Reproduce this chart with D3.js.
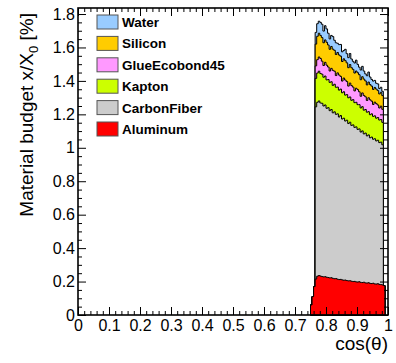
<!DOCTYPE html>
<html><head><meta charset="utf-8">
<script src="https://cdn.jsdelivr.net/npm/d3@7"></script>
<style>
html,body{margin:0;padding:0;background:#fff;}
svg{display:block;font-family:"Liberation Sans",Arial,Helvetica,sans-serif;}
</style></head><body>
<svg id="chart" width="396" height="363"></svg>
<script>
// ---------- data ----------
const legendOrder = ["Water","Silicon","GlueEcobond45","Kapton","CarbonFiber","Aluminum"];
const stackOrder  = ["Aluminum","CarbonFiber","Kapton","GlueEcobond45","Silicon","Water"];
const binStart = 0.75, binWidth = 0.005, nBins = 48;

const aluminum = [0.06,0.11,0.17,0.215,0.232,0.236,0.233,0.230,0.228,0.229,0.226,0.224,0.222,0.223,0.219,0.217,0.218,0.214,0.212,0.213,0.210,0.208,0.209,0.206,0.204,0.205,0.202,0.200,0.201,0.198,0.197,0.199,0.195,0.194,0.196,0.192,0.191,0.193,0.189,0.188,0.190,0.186,0.185,0.187,0.183,0.182,0.180,0.176];
const carbonFiber = [0,0,0,1.030,1.040,1.044,1.035,1.036,1.022,1.027,1.010,1.016,1.000,1.006,0.990,0.998,0.982,0.989,0.972,0.980,0.962,0.969,0.951,0.959,0.941,0.948,0.932,0.937,0.921,0.927,0.913,0.914,0.899,0.907,0.887,0.896,0.880,0.884,0.871,0.876,0.861,0.868,0.856,0.858,0.848,0.852,0.838,0];
const kapton = [0,0,0,0.17,0.175,0.178,0.176,0.174,0.172,0.173,0.17,0.168,0.169,0.166,0.164,0.165,0.162,0.16,0.161,0.158,0.157,0.158,0.155,0.153,0.154,0.151,0.15,0.151,0.148,0.147,0.148,0.145,0.144,0.145,0.142,0.141,0.142,0.139,0.138,0.139,0.137,0.137,0.136,0.136,0.135,0.135,0.134,0];
const glueEcobond45 = [0,0,0,0.075,0.08,0.085,0.09,0.078,0.07,0.082,0.088,0.075,0.068,0.08,0.09,0.078,0.07,0.085,0.09,0.076,0.07,0.082,0.09,0.078,0.07,0.083,0.088,0.075,0.07,0.084,0.09,0.077,0.07,0.082,0.088,0.076,0.07,0.083,0.089,0.076,0.071,0.082,0.087,0.075,0.072,0.08,0.078,0];
const silicon = [0,0,0,0.13,0.14,0.142,0.138,0.141,0.136,0.134,0.137,0.132,0.13,0.131,0.127,0.125,0.126,0.122,0.12,0.121,0.117,0.115,0.116,0.112,0.11,0.111,0.107,0.106,0.107,0.103,0.101,0.102,0.099,0.097,0.098,0.095,0.093,0.094,0.091,0.09,0.09,0.088,0.087,0.086,0.084,0.083,0.082,0];
const water = [0,0,0,0.07,0.075,0.072,0.078,0.08,0.07,0.085,0.08,0.07,0.062,0.066,0.075,0.06,0.07,0.055,0.062,0.07,0.058,0.05,0.068,0.055,0.06,0.066,0.052,0.048,0.06,0.065,0.05,0.045,0.058,0.062,0.048,0.042,0.055,0.06,0.045,0.04,0.05,0.042,0.035,0.04,0.032,0.03,0.026,0];

const xTicks = [0,0.1,0.2,0.3,0.4,0.5,0.6,0.7,0.8,0.9,1];
const xTickLabels = ["0","0.1","0.2","0.3","0.4","0.5","0.6","0.7","0.8","0.9","1"];
const yTicks = [0,0.2,0.4,0.6,0.8,1,1.2,1.4,1.6,1.8];
const yTickLabels = ["0","0.2","0.4","0.6","0.8","1","1.2","1.4","1.6","1.8"];

const colors = {Water:"#99ccff",Silicon:"#ffcc00",GlueEcobond45:"#ff99ff",Kapton:"#ccff00",CarbonFiber:"#cccccc",Aluminum:"#ff0000"};
const valuesByKey = {Aluminum:aluminum,CarbonFiber:carbonFiber,Kapton:kapton,GlueEcobond45:glueEcobond45,Silicon:silicon,Water:water};

// ---------- chart ----------
const svg = d3.select("#chart");
const L=78,R=388,T=8,B=315;
const x = d3.scaleLinear().domain([0,1]).range([L,R]);
const y = d3.scaleLinear().domain([0,1.836]).range([B,T]);

const rows = d3.range(nBins).map(i=>{
  const r = {lo: binStart+i*binWidth, hi: binStart+(i+1)*binWidth};
  stackOrder.forEach(k=> r[k]=valuesByKey[k][i]);
  return r;
});
const series = d3.stack().keys(stackOrder)(rows);

const hg = svg.append("g");
for (let s=series.length-1; s>=0; s--){
  const layer = series[s];
  const idx = d3.range(nBins).filter(i=>layer[i][1]>0);
  const i0 = idx[0], i1 = idx[idx.length-1];
  const p = d3.path();
  p.moveTo(x(rows[i0].lo), y(0));
  for (let i=i0;i<=i1;i++){
    p.lineTo(x(rows[i].lo), y(layer[i][1]));
    p.lineTo(x(rows[i].hi), y(layer[i][1]));
  }
  p.lineTo(x(rows[i1].hi), y(0));
  p.closePath();
  hg.append("path").attr("d",p.toString())
    .attr("fill",colors[layer.key]).attr("stroke","#000").attr("stroke-width",1)
    .attr("stroke-linejoin","miter");
}

// ---------- axes ----------
const xMinor = d3.range(0,1.0001,0.02).filter(v=>Math.abs(v*10-Math.round(v*10))>1e-6);
const yMinor = d3.range(0,1.836,0.05).filter(v=>Math.abs(v*5-Math.round(v*5))>1e-6);

function styleAxis(g){ g.select(".domain").remove(); g.selectAll("line").attr("stroke","#000").attr("stroke-width",1); }

const ax = svg.append("g").attr("transform",`translate(0,${B})`)
  .call(d3.axisBottom(x).tickValues(xTicks).tickFormat((d,i)=>xTickLabels[i]).tickSizeInner(-8).tickSizeOuter(0).tickPadding(5));
styleAxis(ax);
ax.selectAll("text").attr("font-size",16).attr("font-family","Liberation Sans, Arial, sans-serif").attr("fill","#000");
svg.append("g").attr("transform",`translate(0,${B})`)
  .call(d3.axisBottom(x).tickValues(xMinor).tickFormat("").tickSizeInner(-4).tickSizeOuter(0)).call(styleAxis);
svg.append("g").attr("transform",`translate(0,${T})`)
  .call(d3.axisTop(x).tickValues(xTicks).tickFormat("").tickSizeInner(-8).tickSizeOuter(0)).call(styleAxis);
svg.append("g").attr("transform",`translate(0,${T})`)
  .call(d3.axisTop(x).tickValues(xMinor).tickFormat("").tickSizeInner(-4).tickSizeOuter(0)).call(styleAxis);

const ay = svg.append("g").attr("transform",`translate(${L},0)`)
  .call(d3.axisLeft(y).tickValues(yTicks).tickFormat((d,i)=>yTickLabels[i]).tickSizeInner(-8).tickSizeOuter(0).tickPadding(3));
styleAxis(ay);
ay.selectAll("text").attr("font-size",16).attr("font-family","Liberation Sans, Arial, sans-serif").attr("fill","#000");
svg.append("g").attr("transform",`translate(${L},0)`)
  .call(d3.axisLeft(y).tickValues(yMinor).tickFormat("").tickSizeInner(-4).tickSizeOuter(0)).call(styleAxis);
svg.append("g").attr("transform",`translate(${R},0)`)
  .call(d3.axisRight(y).tickValues(yTicks).tickFormat("").tickSizeInner(-8).tickSizeOuter(0)).call(styleAxis);
svg.append("g").attr("transform",`translate(${R},0)`)
  .call(d3.axisRight(y).tickValues(yMinor).tickFormat("").tickSizeInner(-4).tickSizeOuter(0)).call(styleAxis);

svg.append("rect").attr("x",L).attr("y",T).attr("width",R-L).attr("height",B-T)
  .attr("fill","none").attr("stroke","#000").attr("stroke-width",1.6);

// titles
const yt = svg.append("text").attr("transform",`translate(33,13) rotate(-90)`)
  .attr("text-anchor","end").attr("font-size",19).attr("fill","#000");
yt.append("tspan").text("Material budget x/X");
yt.append("tspan").attr("font-size",13).attr("dy",5).text("0");
yt.append("tspan").attr("dy",-5).text(" [%]");

svg.append("text").attr("x",R).attr("y",350).attr("text-anchor","end")
  .attr("font-size",19).attr("fill","#000").text("cos(θ)");

// legend
const lg = svg.append("g");
legendOrder.forEach((k,i)=>{
  const cy = 22 + i*21.4;
  lg.append("rect").attr("x",97).attr("y",cy-7).attr("width",21).attr("height",14)
    .attr("fill",colors[k]).attr("stroke","#555").attr("stroke-width",1);
  lg.append("text").attr("x",122).attr("y",cy+5).attr("font-size",13.5).attr("font-weight","bold")
    .attr("fill","#000").text(k);
});
</script>
</body></html>
